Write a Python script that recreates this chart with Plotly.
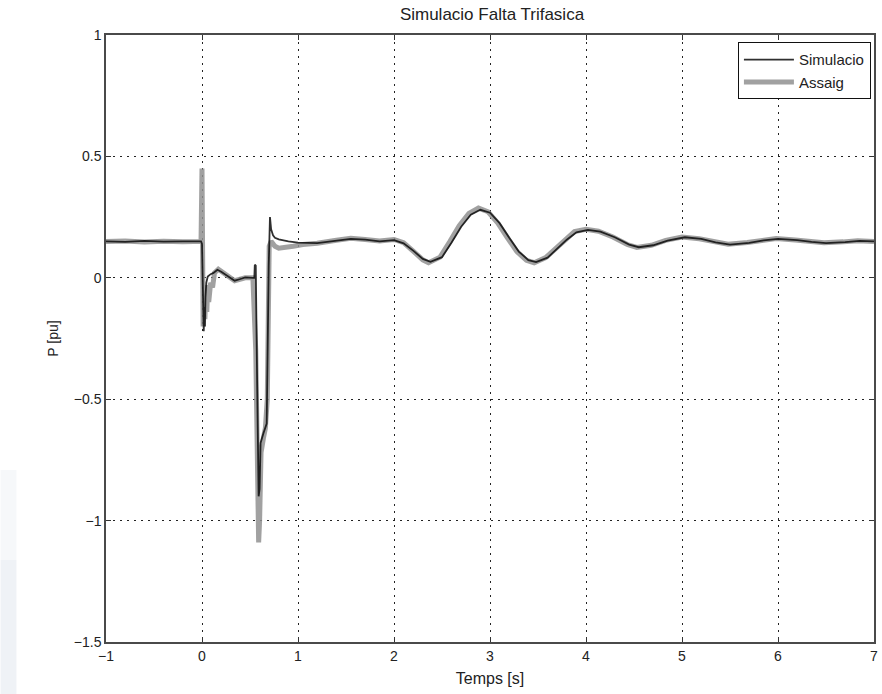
import plotly.graph_objects as go

# Simulated active power trace [pu]
t_sim = [-1.0, -0.8, -0.6, -0.4, -0.2, -0.01, 0.0, 0.008, 0.018, 0.025, 0.03, 0.036,
         0.045, 0.06, 0.09, 0.12, 0.16, 0.2, 0.27, 0.34, 0.4, 0.45, 0.53, 0.545,
         0.55, 0.56, 0.575, 0.59, 0.6, 0.61, 0.64, 0.674, 0.695, 0.708, 0.72, 0.74,
         0.76, 0.8, 0.9, 1.0, 1.2, 1.4, 1.55, 1.7, 1.85, 2.0, 2.1, 2.2, 2.3, 2.38,
         2.5, 2.6, 2.7, 2.8, 2.9, 3.0, 3.1, 3.2, 3.3, 3.4, 3.48, 3.6, 3.7, 3.8,
         3.9, 4.02, 4.15, 4.3, 4.45, 4.55, 4.7, 4.85, 5.03, 5.2, 5.35, 5.5, 5.7,
         5.85, 6.0, 6.2, 6.35, 6.5, 6.7, 6.85, 7.0]
p_sim = [0.15, 0.148, 0.152, 0.149, 0.15, 0.15, 0.14, -0.05, -0.22, -0.12, -0.2, -0.08,
         -0.02, 0.005, 0.015, 0.02, 0.033, 0.025, 0.005, -0.012, -0.005, 0.002, 0.0, 0.0,
         0.054, 0.05, -0.45, -0.9, -0.87, -0.68, -0.64, -0.6, 0.05, 0.25, 0.2, 0.175,
         0.165, 0.158, 0.15, 0.145, 0.143, 0.152, 0.16, 0.157, 0.15, 0.155, 0.142, 0.112, 0.078, 0.066,
         0.085, 0.145, 0.21, 0.26, 0.28, 0.268, 0.225, 0.165, 0.108, 0.073, 0.065, 0.083, 0.118, 0.157,
         0.187, 0.197, 0.19, 0.167, 0.137, 0.126, 0.134, 0.153, 0.167, 0.16, 0.146, 0.137, 0.144,
         0.154, 0.16, 0.155, 0.148, 0.143, 0.147, 0.152, 0.15]

# Measured active power trace [pu]
t_meas = [-1.0, -0.8, -0.6, -0.4, -0.2, -0.01, 0.0, 0.006, 0.012, 0.02, 0.03, 0.04,
          0.05, 0.06, 0.07, 0.09, 0.11, 0.13, 0.17, 0.22, 0.28, 0.34, 0.45, 0.53,
          0.56, 0.59, 0.6, 0.615, 0.64, 0.66, 0.68, 0.7, 0.72, 0.76, 0.8, 0.86,
          0.95, 1.05, 1.2, 1.4, 1.55, 1.7, 1.85, 2.0, 2.1, 2.2, 2.3, 2.36, 2.48,
          2.58, 2.68, 2.78, 2.88, 2.98, 3.08, 3.18, 3.28, 3.38, 3.46, 3.58, 3.68,
          3.78, 3.88, 4.0, 4.13, 4.28, 4.43, 4.53, 4.68, 4.83, 5.0, 5.18, 5.33,
          5.48, 5.68, 5.83, 5.98, 6.18, 6.33, 6.48, 6.68, 6.83, 7.0]
p_meas = [0.15, 0.152, 0.147, 0.151, 0.148, 0.15, 0.45, 0.1, -0.2, -0.1, -0.17, -0.05,
          -0.14, -0.03, -0.1, -0.02, -0.04, 0.02, 0.035, 0.02, 0.002, -0.012, 0.0, 0.0,
          -0.3, -1.09, -1.0, -0.72, -0.66, -0.62, -0.5, 0.13, 0.15, 0.13, 0.122, 0.124,
          0.13, 0.137, 0.142, 0.155, 0.163, 0.158, 0.152, 0.158, 0.145, 0.11, 0.074, 0.062, 0.085,
          0.148, 0.215, 0.265, 0.287, 0.272, 0.226, 0.166, 0.108, 0.072, 0.062, 0.083, 0.12, 0.158,
          0.19, 0.2, 0.192, 0.168, 0.137, 0.125, 0.134, 0.154, 0.168, 0.161, 0.147, 0.138, 0.145,
          0.155, 0.162, 0.156, 0.149, 0.144, 0.148, 0.153, 0.15]

x_ticks = [-1, 0, 1, 2, 3, 4, 5, 6, 7]
y_ticks = [-1.5, -1, -0.5, 0, 0.5, 1]

FONT = "Liberation Sans, Arial, sans-serif"

fig = go.Figure()
# measured trace underneath, simulated trace drawn on top of it
fig.add_trace(go.Scatter(x=t_meas, y=p_meas, mode="lines", name="Assaig", legendrank=2,
                         line=dict(color="rgba(145,145,145,0.85)", width=5)))
fig.add_trace(go.Scatter(x=t_sim, y=p_sim, mode="lines", name="Simulacio", legendrank=1,
                         line=dict(color="rgba(10,10,10,0.85)", width=1.8)))

axis_common = dict(
    showline=True, linecolor="#4a4a4a", linewidth=1.5, mirror="ticks",
    ticks="inside", ticklen=5, tickcolor="#333333", tickwidth=1,
    showgrid=True, gridcolor="#222222", gridwidth=1, griddash="2px,5px",
    zeroline=False, tickfont=dict(size=14, color="#222222", family=FONT),
)

fig.update_layout(
    width=882, height=694,
    margin=dict(l=106, r=4, t=35, b=52),
    paper_bgcolor="white", plot_bgcolor="white",
    font=dict(family=FONT, color="#222222", size=14),
    title=dict(text="Simulacio Falta Trifasica", x=(106 + 772 / 2) / 882, xanchor="center",
               y=1 - 14 / 694, yanchor="middle", font=dict(size=17, family=FONT)),
    xaxis=dict(range=[-1, 7], tickvals=x_ticks, title=dict(text="Temps [s]", standoff=10,
               font=dict(size=16)), **axis_common),
    yaxis=dict(range=[-1.5, 1], tickvals=y_ticks, title=dict(text="P [pu]", standoff=12,
               font=dict(size=14)), **axis_common),
    legend=dict(x=0.996, y=0.988, xanchor="right", yanchor="top",
                bordercolor="#111111", borderwidth=1, bgcolor="white",
                font=dict(size=15, family=FONT), itemwidth=50, tracegroupgap=0,
                traceorder="normal"),
    showlegend=True,
    shapes=[
        dict(type="rect", xref="paper", yref="paper",
             x0=-106 / 772, x1=-90 / 772, y0=-52 / 607, y1=(642 - 560) / 607,
             fillcolor="#eff2f6", line=dict(width=0), layer="below"),
        dict(type="rect", xref="paper", yref="paper",
             x0=-106 / 772, x1=-90 / 772, y0=(642 - 560) / 607, y1=(642 - 470) / 607,
             fillcolor="#f6f8fa", line=dict(width=0), layer="below"),
    ],
)

fig.write_html("out.html")
